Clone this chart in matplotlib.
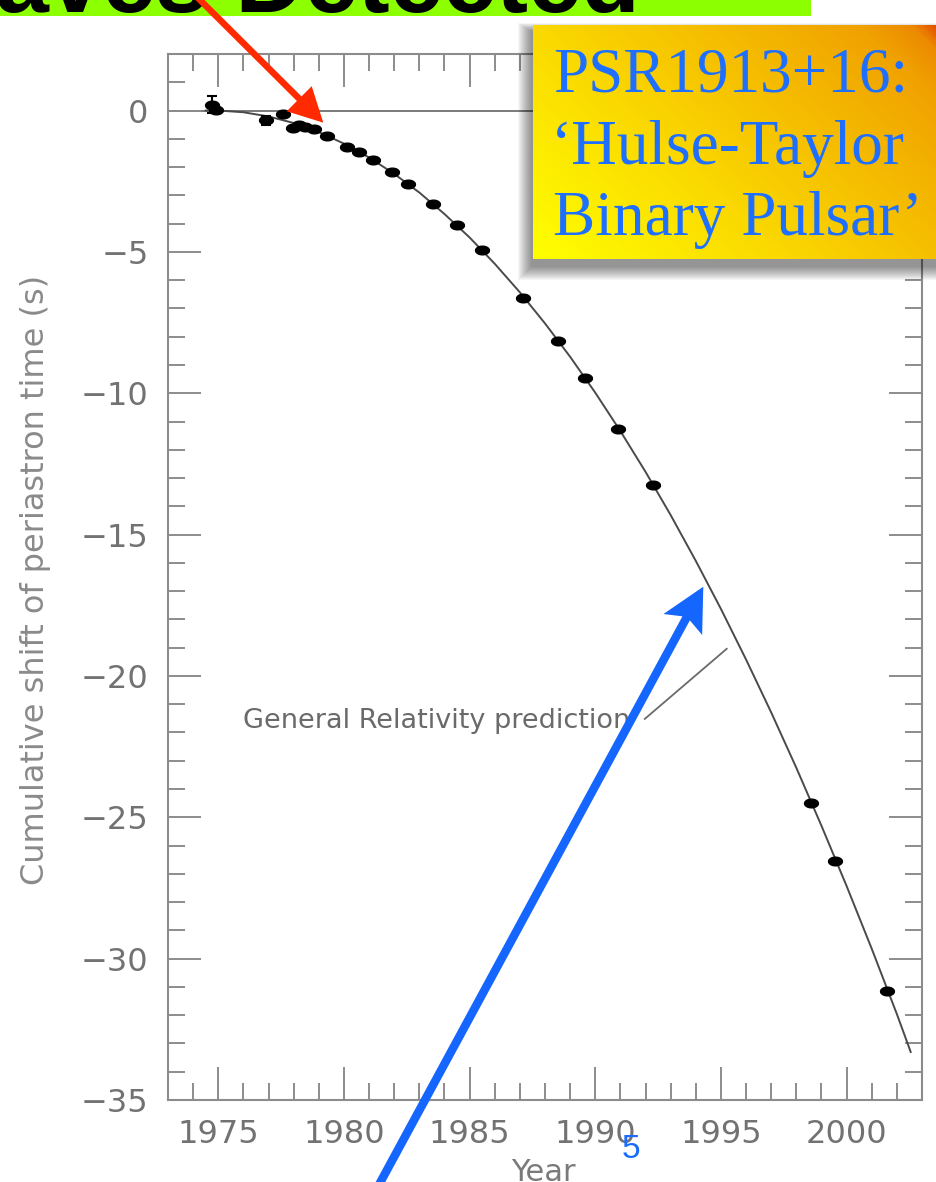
import numpy as np
import matplotlib
matplotlib.use("Agg")
import matplotlib.pyplot as plt
from matplotlib.patches import Rectangle, Polygon
from matplotlib.colors import LinearSegmentedColormap

W, H, DPI = 936, 1182, 100

# ---------------- data ----------------
obs_year = [1974.75, 1974.92, 1976.90, 1977.57, 1977.97, 1978.22, 1978.46,
            1978.79, 1979.32, 1980.12, 1980.58, 1981.14, 1981.90, 1982.54,
            1983.56, 1984.51, 1985.50, 1987.13, 1988.52, 1989.59, 1990.91,
            1992.28, 1998.57, 1999.55, 2001.62]
obs_shift = [0.21, 0.01, -0.35, -0.11, -0.61, -0.50, -0.58,
             -0.65, -0.91, -1.30, -1.48, -1.74, -2.17, -2.60,
             -3.31, -4.05, -4.93, -6.62, -8.16, -9.46, -11.25,
             -13.26, -24.49, -26.54, -31.15]
obs_err = [0.30, 0.05, 0.15, 0.05, 0.05, 0.05, 0.05,
           0.05, 0.05, 0.05, 0.05, 0.05, 0.05, 0.05,
           0.05, 0.05, 0.05, 0.05, 0.05, 0.05, 0.05,
           0.05, 0.05, 0.05, 0.05]

gr_year = [1974.5, 1975, 1976, 1977, 1978, 1979, 1980, 1981, 1982, 1983,
           1984, 1985, 1986, 1987, 1988, 1989, 1990, 1991, 1992, 1993,
           1994, 1995, 1996, 1997, 1998, 1999, 2000, 2001, 2002, 2002.55]
gr_shift = [0.00, 0.00, -0.06, -0.21, -0.44, -0.76, -1.17, -1.66, -2.24, -2.90,
            -3.66, -4.49, -5.42, -6.43, -7.53, -8.71, -9.98, -11.34, -12.78, -14.31,
            -15.93, -17.63, -19.42, -21.29, -23.25, -25.30, -27.43, -29.65, -31.96, -33.30]

x_major = [1975, 1980, 1985, 1990, 1995, 2000]
y_major = [0, -5, -10, -15, -20, -25, -30, -35]

xlabel = "Year"
ylabel = "Cumulative shift of periastron time (s)"
gr_label = "General Relativity prediction"
box_lines = ["PSR1913+16:", "\u2018Hulse-Taylor", "Binary Pulsar\u2019"]
banner_text = "Gravitational Waves Detected"
page_number = "5"

# ---------------- figure ----------------
fig = plt.figure(figsize=(W / DPI, H / DPI), dpi=DPI)
fig.patch.set_facecolor("white")

def px2fig(x0, y0, x1, y1):
    return [x0 / W, 1 - y1 / H, (x1 - x0) / W, (y1 - y0) / H]

ax = fig.add_axes(px2fig(168, 54, 922, 1100))
ax.set_xlim(1973, 2003)
ax.set_ylim(-35, 2)

spine_c = "#8c8c8c"
for s in ax.spines.values():
    s.set_color(spine_c)
    s.set_linewidth(1.5)

ax.set_xticks(x_major)
ax.set_xticks(np.arange(1973, 2004, 1), minor=True)
ax.set_yticks(y_major)
ax.set_yticks(np.arange(-35, 3, 1), minor=True)
ax.tick_params(which="both", direction="in", top=True, right=True,
               color=spine_c, width=1.4)
ax.tick_params(which="major", length=23.5)
ax.tick_params(which="minor", length=12)
ax.tick_params(axis="x", which="major", labelsize=23, labelcolor="#727272", pad=14)
ax.tick_params(axis="y", which="major", labelsize=23, labelcolor="#727272", pad=14)

ax.axhline(0, color="#7a7a7a", lw=1.4, zorder=1)
ax.plot(gr_year, gr_shift, color="#4a4a4a", lw=1.4, zorder=2)

theta = np.linspace(0, 2 * np.pi, 41)
ell = np.column_stack([1.6 * np.cos(theta), np.sin(theta)])
ax.errorbar(obs_year, obs_shift, yerr=obs_err, fmt="none", ecolor="black",
            elinewidth=1.5, capsize=3.5, capthick=1.5, zorder=3)
ax.plot(obs_year, obs_shift, linestyle="none", marker=ell, ms=10,
        color="black", mec="black", zorder=4)

ax.text(1975.99, -21.6, gr_label, fontsize=19.5, color="#6a6a6a",
        ha="left", va="center", zorder=5)
ax.plot([1991.97, 1995.23], [-21.52, -19.04], color="#6a6a6a", lw=1.3, zorder=5)

# axis titles as figure text
fig.text(36 / W, 1 - 580 / H, ylabel, rotation=90, ha="center", va="center",
         fontsize=23, color="#8a8a8a")
fig.text(543 / W, 1 - 1181 / H, xlabel, ha="center", va="baseline",
         fontsize=22, color="#7a7a7a")

# ---------------- overlay (slide decorations) ----------------
ov = fig.add_axes([0, 0, 1, 1], zorder=10)
ov.set_facecolor("none")
ov.axis("off")

# yellow box shadow
bx0, by0, bx1, by1 = 533, 25, 940, 259
for k in range(14):
    ov.add_patch(Rectangle((bx0 - 2 - k, by0 + 6 - k * 0.6), (bx1 - bx0) + 2 * k,
                           (by1 - by0) + 2 + 1.6 * k, facecolor="black",
                           edgecolor="none", alpha=0.035, zorder=1))

# gradient box
ny, nx = 120, 200
u = np.linspace(0, 1, nx)[None, :]
v = np.linspace(0, 1, ny)[:, None]
sgrid = (u * 0.62 + (1 - v) * 0.38)
cmap = LinearSegmentedColormap.from_list(
    "box", [(0.0, "#FFFF00"), (0.35, "#FBDC00"), (0.65, "#F5BC00"),
            (0.88, "#F0A200"), (0.96, "#EC8A00"), (1.0, "#E24A00")])
ov.imshow(sgrid, cmap=cmap, extent=[bx0, bx1, by1, by0], aspect="auto",
          interpolation="bilinear", zorder=2, vmin=0, vmax=1)

txt_c = "#1F6FFF"
for i, line in enumerate(box_lines):
    ov.text(553 if i != 1 else 551, 92 + i * 71.5, line, fontsize=45.5,
            family="Liberation Serif", color=txt_c, ha="left", va="baseline", zorder=3)

# green banner
ov.add_patch(Rectangle((0, 0), 811, 16, facecolor="#8CFF00", edgecolor="none", zorder=4))
ov.text(640, 12, banner_text, ha="right", va="baseline", fontsize=69,
        fontweight="bold", family="Liberation Sans", color="black", zorder=5)

def arrow_poly(tail, tip, shaft_w, head_len, head_hw, notch=0.0):
    tail = np.array(tail, float)
    tip = np.array(tip, float)
    d = tip - tail
    d /= np.hypot(*d)
    n = np.array([-d[1], d[0]])
    hb = tip - head_len * d
    join = tip - (head_len - notch) * d
    pts = [tail + n * shaft_w / 2, join + n * shaft_w / 2, hb + n * head_hw,
           tip, hb - n * head_hw, join - n * shaft_w / 2, tail - n * shaft_w / 2]
    return np.array(pts)

# red arrow
ov.add_patch(Polygon(arrow_poly((198, -2), (323.3, 122.7), 6.5, 34, 17.7),
                     closed=True, facecolor="#FF2A00", edgecolor="none", zorder=6))
# blue arrow
ov.add_patch(Polygon(arrow_poly((368, 1205), (703.3, 586.7), 8.5, 43, 22, notch=7),
                     closed=True, facecolor="#1566FF", edgecolor="none", zorder=6))

ov.text(631, 1149, page_number, ha="center", va="center", fontsize=24,
        family="Liberation Sans", color="#1A6CFF", zorder=6)

ov.set_xlim(0, W)
ov.set_ylim(H, 0)

fig.savefig("out.png", dpi=DPI, facecolor="white")
